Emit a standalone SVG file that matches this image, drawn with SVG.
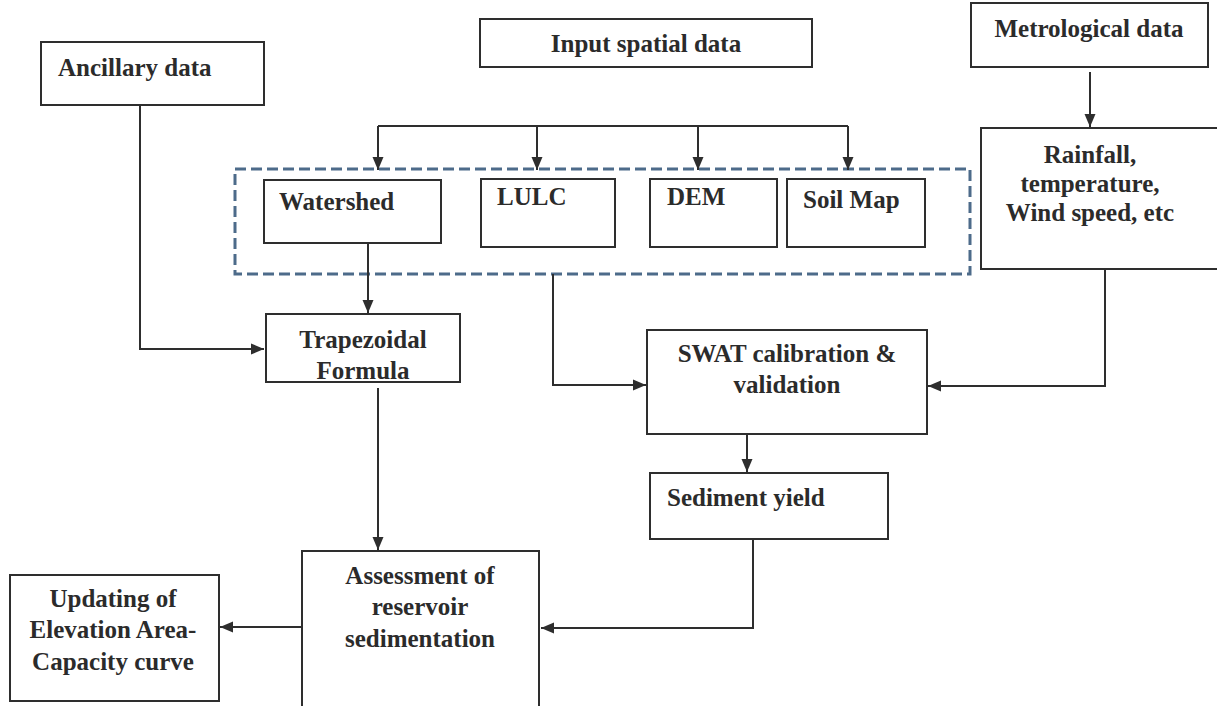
<svg xmlns="http://www.w3.org/2000/svg" width="1217" height="706" viewBox="0 0 1217 706">
<style>
.box{fill:none;stroke:#2e2e2e;stroke-width:2}
.t{font-family:"Liberation Serif","Times New Roman",serif;font-weight:bold;font-size:25px;fill:#2b2b2b}
.c{text-anchor:middle}
.ln{fill:none;stroke:#2e2e2e;stroke-width:2}
.dash{fill:none;stroke:#4d6b8a;stroke-width:3;stroke-dasharray:11 5}
</style>
<defs>
<marker id="ah" markerUnits="userSpaceOnUse" markerWidth="14" markerHeight="14" viewBox="0 0 14 14" refX="13" refY="7" orient="auto">
<path d="M0,1.5 L13,7 L0,12.5 Z" fill="#2e2e2e"/>
</marker>
</defs>
<rect width="1217" height="706" fill="#ffffff"/>
<rect class="dash" x="235" y="169" width="735" height="105"/>
<g id="connectors">
<path class="ln" d="M140 105 V349 H264" marker-end="url(#ah)"/>
<path class="ln" d="M378 126 H848"/>
<path class="ln" d="M378 126 V170" marker-end="url(#ah)"/>
<path class="ln" d="M537 126 V170" marker-end="url(#ah)"/>
<path class="ln" d="M698 126 V170" marker-end="url(#ah)"/>
<path class="ln" d="M848 126 V170" marker-end="url(#ah)"/>
<path class="ln" d="M368 243 V313" marker-end="url(#ah)"/>
<path class="ln" d="M1090 72 V127" marker-end="url(#ah)"/>
<path class="ln" d="M1105 269 V386 H928" marker-end="url(#ah)"/>
<path class="ln" d="M553 274 V385 H646" marker-end="url(#ah)"/>
<path class="ln" d="M747 434 V472" marker-end="url(#ah)"/>
<path class="ln" d="M753 539 V628 H541" marker-end="url(#ah)"/>
<path class="ln" d="M378 388 V550" marker-end="url(#ah)"/>
<path class="ln" d="M302 627 H220" marker-end="url(#ah)"/>
</g>
<g id="ancillary"><rect class="box" x="41" y="42" width="223" height="63"/><text class="t" x="58" y="76">Ancillary data</text></g>
<g id="input"><rect class="box" x="480" y="19" width="332" height="48"/><text class="t c" x="646" y="52">Input spatial data</text></g>
<g id="metro"><rect class="box" x="971" y="3" width="237" height="64"/><text class="t c" x="1089" y="37">Metrological data</text></g>
<g id="watershed"><rect class="box" x="264" y="180" width="177" height="63"/><text class="t" x="279" y="210">Watershed</text></g>
<g id="lulc"><rect class="box" x="481" y="179" width="134" height="68"/><text class="t" x="497" y="205">LULC</text></g>
<g id="dem"><rect class="box" x="650" y="179" width="127" height="68"/><text class="t" x="667" y="205">DEM</text></g>
<g id="soil"><rect class="box" x="787" y="179" width="138" height="68"/><text class="t" x="803" y="208">Soil Map</text></g>
<g id="rainfall"><rect class="box" x="981" y="128" width="245" height="141"/><text class="t c" x="1090" y="163">Rainfall,</text><text class="t c" x="1090" y="192">temperature,</text><text class="t c" x="1090" y="221">Wind speed, etc</text></g>
<g id="trapezoidal"><rect class="box" x="266" y="314" width="194" height="68"/><text class="t c" x="363" y="348">Trapezoidal</text><text class="t c" x="363" y="379">Formula</text></g>
<g id="swat"><rect class="box" x="647" y="330" width="280" height="104"/><text class="t c" x="787" y="362">SWAT  calibration &amp;</text><text class="t c" x="787" y="393">validation</text></g>
<g id="sediment"><rect class="box" x="650" y="473" width="238" height="66"/><text class="t" x="667" y="506">Sediment yield</text></g>
<g id="assessment"><rect class="box" x="302" y="551" width="237" height="165"/><text class="t c" x="420" y="584">Assessment of</text><text class="t c" x="420" y="615">reservoir</text><text class="t c" x="420" y="647">sedimentation</text></g>
<g id="updating"><rect class="box" x="10" y="575" width="209" height="126"/><text class="t c" x="113" y="607">Updating of</text><text class="t c" x="113" y="638">Elevation Area-</text><text class="t c" x="113" y="670">Capacity  curve</text></g>
</svg>
